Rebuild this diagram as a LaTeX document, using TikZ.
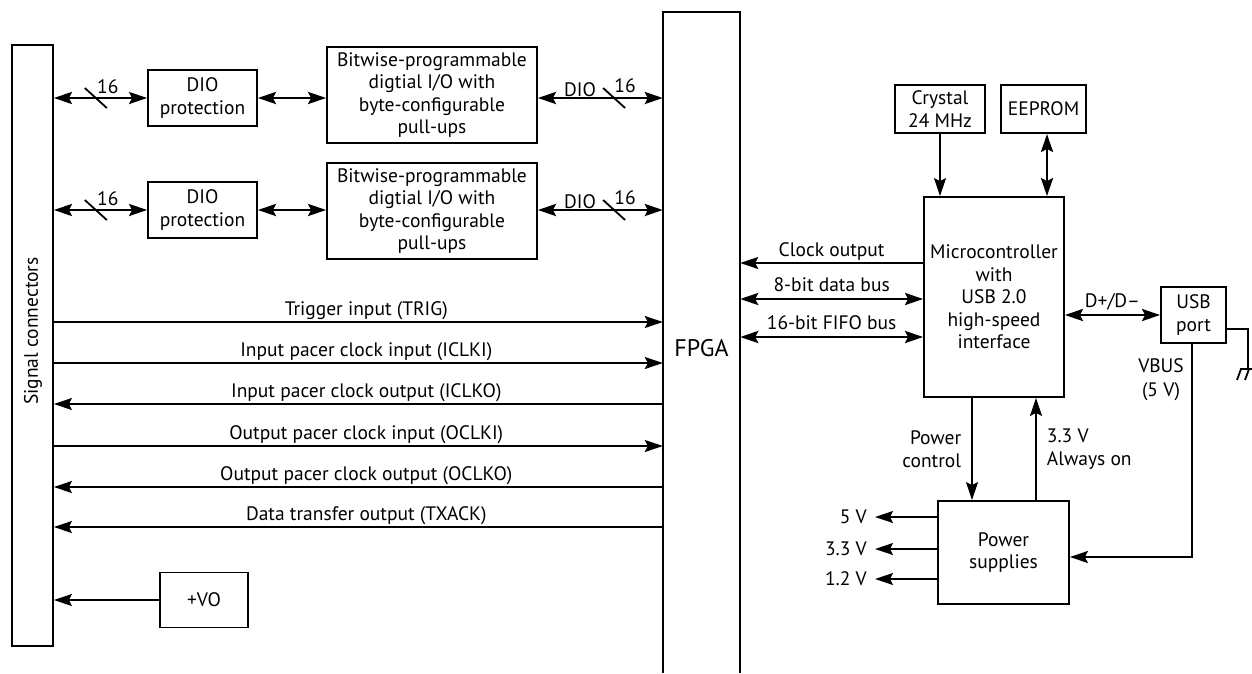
\documentclass[tikz,border=0pt]{standalone}
\usepackage{fontspec}
\setmainfont{PT Sans}
\usetikzlibrary{arrows.meta,calc}
\begin{document}
\begin{tikzpicture}[x=1pt,y=-1pt, font=\fontsize{19.5}{22.5}\selectfont,
  box/.style={draw, line width=1.8pt, inner sep=0pt, align=center},
  thinln/.style={line width=1.8pt},
  thickln/.style={line width=2.8pt},
  >={Stealth[length=18pt,width=12pt,inset=3pt]},
  lab/.style={above, inner sep=2pt, text depth=4pt},
]
\useasboundingbox (0,0) rectangle (1252,673);

% left side
\node[box, minimum width=41pt, minimum height=601pt] (sig) at (32.5,345.5) {};
\node[rotate=90] (sigtxt) at (33,331) {Signal connectors};

\node[box, minimum width=109pt, minimum height=56pt] (dio1) at (202.5,98) {DIO\\protection};
\node[box, minimum width=109pt, minimum height=56pt] (dio2) at (202.5,210) {DIO\\protection};
\node[box, minimum width=210pt, minimum height=96pt] (bw1) at (432,95) {Bitwise-programmable\\digtial I/O with\\byte-configurable\\pull-ups};
\node[box, minimum width=210pt, minimum height=96pt] (bw2) at (432,211) {Bitwise-programmable\\digtial I/O with\\byte-configurable\\pull-ups};

% FPGA
\node[minimum width=77pt, minimum height=600pt, inner sep=0pt, font=\fontsize{24}{26}\selectfont] (fpga) at (701.5,348) {FPGA};
\draw[thinln] (fpga.west |- 0,673) -- (fpga.west |- 0,12) -- (fpga.east |- 0,12) -- (fpga.east |- 0,673);

% DIO rows
\foreach \d/\b in {dio1/bw1, dio2/bw2}{
  \draw[thickln,<->] (sig.east |- \d) -- coordinate[pos=0.45] (sA\d) (\d.west);
  \draw[thinln] ($(sA\d)+(-11,-10)$) -- ($(sA\d)+(11,10)$);
  \node[inner sep=0pt] at ($(sA\d)+(12,-11)$) {16};
  \draw[thickln,<->] (\d.east) -- (\b.west |- \d);
  \draw[thickln,<->] (\b.east |- \d) -- coordinate[pos=0.61] (sB\d) (fpga.west |- \d);
  \draw[thinln] ($(sB\d)+(-11,-10)$) -- ($(sB\d)+(11,10)$);
  \node[inner sep=0pt] at ($(sB\d)+(11,-12)$) {16};
  \node[inner sep=0pt] at ($(sB\d)+(-34,-8)$) {DIO};
}

% signal lines
\draw[thinln,->] (sig.east |- 0,322) -- (fpga.west |- 0,322) node[lab,pos=0.513] {Trigger input (TRIG)};
\draw[thinln,->] (sig.east |- 0,363) -- (fpga.west |- 0,363) node[lab,pos=0.513] {Input pacer clock input (ICLKI)};
\draw[thinln,<-] (sig.east |- 0,404) -- (fpga.west |- 0,404) node[lab,pos=0.513] {Input pacer clock output (ICLKO)};
\draw[thinln,->] (sig.east |- 0,446) -- (fpga.west |- 0,446) node[lab,pos=0.513] {Output pacer clock input (OCLKI)};
\draw[thinln,<-] (sig.east |- 0,487) -- (fpga.west |- 0,487) node[lab,pos=0.513] {Output pacer clock output (OCLKO)};
\draw[thinln,<-] (sig.east |- 0,527) -- (fpga.west |- 0,527) node[lab,pos=0.513] {Data transfer output (TXACK)};

\node[box, minimum width=88pt, minimum height=55pt] (vo) at (204,600) {+VO};
\draw[thinln,->] (vo.west) -- (sig.east |- vo);

% right side
\node[box, minimum width=90pt, minimum height=48pt] (xtal) at (940,109) {Crystal\\24 MHz};
\node[box, minimum width=85pt, minimum height=48pt] (eeprom) at (1043.5,109) {EEPROM};
\node[box, minimum width=140pt, minimum height=200pt] (mcu) at (994,297) {Microcontroller\\with\\USB 2.0\\high-speed\\interface};
\node[box, minimum width=65pt, minimum height=56pt] (usb) at (1193.5,315) {USB\\port};
\node[box, minimum width=131pt, minimum height=103pt] (psu) at (1003.5,552.5) {Power\\supplies};

\draw[thinln,->] (xtal.south) -- (mcu.north -| xtal.south);
\draw[thickln,<->] (eeprom.south -| 1047,0) -- (mcu.north -| 1047,0);

\draw[thinln,->] (mcu.west |- 0,263) -- (fpga.east |- 0,263) node[lab,midway] {Clock output};
\draw[thickln,<->] (fpga.east |- 0,299) -- (mcu.west |- 0,299) node[lab,midway] {8-bit data bus};
\draw[thickln,<->] (fpga.east |- 0,337) -- (mcu.west |- 0,337) node[lab,midway] {16-bit FIFO bus};
\draw[thickln,<->] (mcu.east |- usb) -- (usb.west) node[lab,midway] {D+/D–};

% ground
\coordinate (gnd) at (1248,369);
\draw[thinln] (usb.east |- 0,329) -- (gnd |- 0,329) -- (gnd);
\draw[thinln] (1240,369) -- (1252,369);
\draw[thinln] (1241,369) -- (1237,380);
\draw[thinln] (1249,369) -- (1245,380);

% VBUS
\coordinate (vb) at (1192,557);
\draw[thinln,->] (usb.south -| vb) -- (vb) -- (psu.east |- vb);
\node[align=center, font=\fontsize{19.5}{24}\selectfont] (vbus) at (1161,380) {VBUS\\(5 V)};

% power control
\draw[thinln,->] (mcu.south -| 972,0) -- (psu.north -| 972,0)
  node[midway, anchor=east, align=right, inner sep=0pt, xshift=-10pt, font=\fontsize{19.5}{23}\selectfont] {Power\\control};
\draw[thinln,->] (psu.north -| 1036,0) -- (mcu.south -| 1036,0)
  node[midway, anchor=west, align=left, inner sep=0pt, xshift=10pt, font=\fontsize{19.5}{23}\selectfont] {3.3 V\\Always on};

% outputs
\coordinate (o5) at (875,517);
\coordinate (o33) at (875,549);
\coordinate (o12) at (875,579);
\draw[thinln,->] (psu.west |- o5) -- (o5);
\draw[thinln,->] (psu.west |- o33) -- (o33);
\draw[thinln,->] (psu.west |- o12) -- (o12);
\node[anchor=east, inner sep=0pt, xshift=-8pt] (t5) at (o5) {5 V};
\node[anchor=east, inner sep=0pt, xshift=-8pt] (t33) at (o33) {3.3 V};
\node[anchor=east, inner sep=0pt, xshift=-8pt] (t12) at (o12) {1.2 V};
\end{tikzpicture}
\end{document}
